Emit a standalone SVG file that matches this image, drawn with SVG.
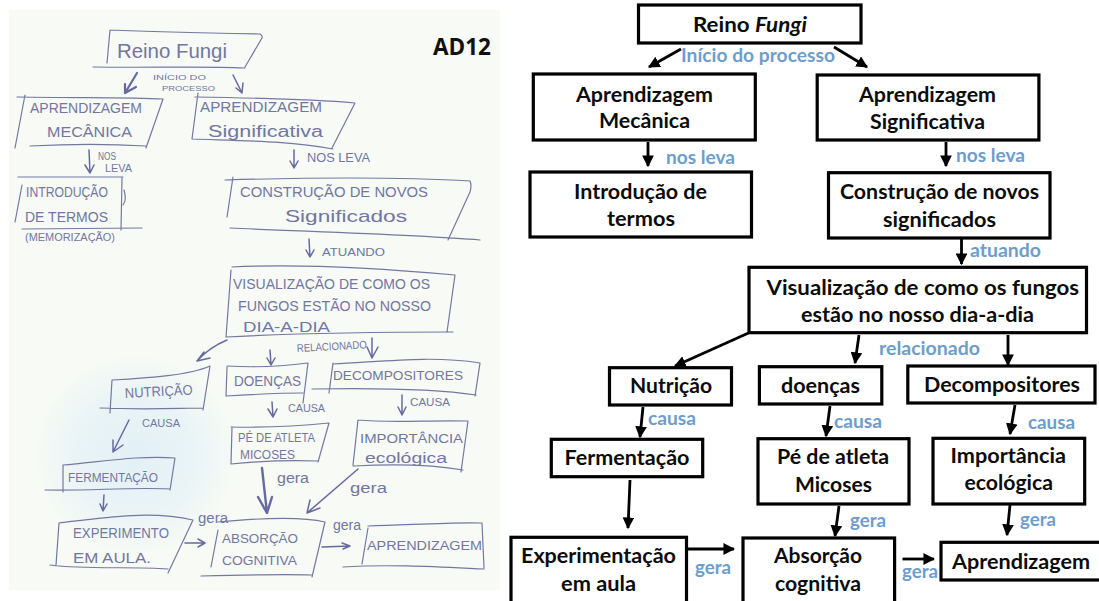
<svg xmlns="http://www.w3.org/2000/svg" width="1099" height="601" viewBox="0 0 1099 601">
<style>
.p{fill:none;stroke:#7478a0;stroke-width:1.2;stroke-linecap:round;stroke-linejoin:round}
.a{fill:none;stroke:#676a9f;stroke-width:1.5;stroke-linecap:round;stroke-linejoin:round}
.h{font-family:"Liberation Sans",sans-serif;fill:#7276a0;font-size:14px}
.b{fill:#fff;stroke:#000;stroke-width:3.2}
.t{font-family:Lato,"Liberation Sans",sans-serif;font-weight:700;font-size:20.5px;fill:#0c0c0c}
.l{font-family:Lato,"Liberation Sans",sans-serif;font-weight:700;font-size:19px;fill:#6c9dcc}
.c{fill:none;stroke:#000;stroke-width:2.8;marker-end:url(#ah)}
</style>
<defs>
<marker id="ah" viewBox="0 0 10 10" refX="9" refY="5" markerWidth="4.2" markerHeight="4.2" orient="auto"><path d="M0 0L10 5L0 10z" fill="#000"/></marker>
<radialGradient id="blot"><stop offset="0" stop-color="#e2f0f6"/><stop offset=".6" stop-color="#eaf4f6"/><stop offset="1" stop-color="#f7faf5"/></radialGradient>
</defs>
<rect width="1099" height="601" fill="#fff"/>
<rect id="paper" x="9" y="10" width="491" height="580" fill="#f7faf5"/>
<ellipse cx="135" cy="455" rx="100" ry="100" fill="url(#blot)"/>
<text x="433" y="55" textLength="58" lengthAdjust="spacingAndGlyphs" font-family="'Open Sans','Liberation Sans',sans-serif" font-weight="700" font-size="24" fill="#111">AD12</text>

<g id="sketch-connectors">
<path class="a" style="stroke-width:2.2" d="M137 73L125 93M125 84L125 93L136 87"/>
<path class="a" d="M233 75L242 93M236 88L242 93L243 83"/>
<path class="a" d="M89 150L90 173M85 165L90 173L94 165"/>
<path class="a" d="M294 150L294 168M290 161L294 168L298 161"/>
<path class="a" d="M309 239L310 257M306 250L310 257L314 250"/>
<path class="a" d="M227 340C215 345 205 352 197 361M210 358L197 361L204 352"/>
<path class="a" d="M270 350L271 365M267 358L271 365L275 358"/>
<path class="a" d="M372 338L372 358M367 347L372 358L378 347"/>
<path class="a" d="M272 402L273 417M268 409L273 417L277 409"/>
<path class="a" d="M402 395L402 415M398 407L402 415L406 407"/>
<path class="a" d="M129 420L113 452M113 440L113 452L123 445"/>
<path class="a" d="M104 495L103 511M100 504L103 511L107 504"/>
<path class="a" style="stroke-width:2.4" d="M262 468L267 513M258 497L267 513L272 497"/>
<path class="a" d="M358 469L307 513M310 500L307 513L320 508"/>
<path class="a" d="M185 543L205 543M198 539L205 543L198 547"/>
<path class="a" d="M322 547L350 546M342 543L350 546L343 549"/>
</g>

<g id="s-reino"><path class="p" d="M110 30L107 63M110 30C160 32 210 33 260 34Q263 36 262 38L245 67M93 67C150 68 200 66 245 68"/><text class="h" style="font-size:21px" x="117" y="58" textLength="110" lengthAdjust="spacingAndGlyphs">Reino Fungi</text></g>
<g id="s-inicio"><text class="h" style="font-size:8px" x="153" y="80" textLength="53" lengthAdjust="spacingAndGlyphs">INÍCIO DO</text><text class="h" style="font-size:8px" x="162" y="91" textLength="53" lengthAdjust="spacingAndGlyphs">PROCESSO</text></g>
<g id="s-mecanica"><path class="p" d="M25 95L15 148M17 97C80 98 130 97 163 99L146 148M30 146C70 144 110 144 146 146"/><text class="h" x="30" y="113" textLength="112" lengthAdjust="spacingAndGlyphs">APRENDIZAGEM</text><text class="h" x="47" y="137" textLength="85" lengthAdjust="spacingAndGlyphs">MECÂNICA</text></g>
<text class="h" style="font-size:10px" x="98" y="160" textLength="18" lengthAdjust="spacingAndGlyphs">NOS</text><text class="h" style="font-size:10px" x="105" y="172" textLength="27" lengthAdjust="spacingAndGlyphs">LEVA</text>
<g id="s-introducao"><path class="p" d="M18 177L123 177M22 185L15 222M122 178L121 230M124 190Q127 200 123 205M22 229L142 228"/><text class="h" x="26" y="197" textLength="82" lengthAdjust="spacingAndGlyphs">INTRODUÇÃO</text><text class="h" x="25" y="222" textLength="83" lengthAdjust="spacingAndGlyphs">DE TERMOS</text><text class="h" style="font-size:10px" x="25" y="241" textLength="90" lengthAdjust="spacingAndGlyphs">(MEMORIZAÇÃO)</text></g>
<g id="s-significativa"><path class="p" d="M198 93L192 139M195 97C260 98 320 100 355 103L332 148M192 139C250 141 290 141 333 149"/><text class="h" x="200" y="112" textLength="122" lengthAdjust="spacingAndGlyphs">APRENDIZAGEM</text><text class="h" style="font-size:16px" x="208" y="137" textLength="115" lengthAdjust="spacingAndGlyphs">Significativa</text></g>
<text class="h" style="font-size:12px" x="307" y="162" textLength="63" lengthAdjust="spacingAndGlyphs">NOS LEVA</text>
<g id="s-construcao"><path class="p" d="M233 177L227 217M225 180C330 177 420 178 470 181Q472 185 470 192L448 240M230 228C320 232 420 235 480 240"/><text class="h" x="240" y="197" textLength="188" lengthAdjust="spacingAndGlyphs">CONSTRUÇÃO DE NOVOS</text><text class="h" style="font-size:17px" x="285" y="222" textLength="122" lengthAdjust="spacingAndGlyphs">Significados</text></g>
<text class="h" style="font-size:11px" x="322" y="256" textLength="63" lengthAdjust="spacingAndGlyphs">ATUANDO</text>
<g id="s-visualizacao"><path class="p" d="M232 267C310 263 400 270 455 275M231 270L226 337M455 275L447 332M226 337C300 333 400 332 453 332"/><text class="h" x="233" y="289" textLength="197" lengthAdjust="spacingAndGlyphs">VISUALIZAÇÃO DE COMO OS</text><text class="h" x="238" y="311" textLength="193" lengthAdjust="spacingAndGlyphs">FUNGOS ESTÃO NO NOSSO</text><text class="h" x="243" y="332" textLength="87" lengthAdjust="spacingAndGlyphs">DIA-A-DIA</text></g>
<text class="h" style="font-size:11px" transform="rotate(-3 297 352)" x="297" y="352" textLength="70" lengthAdjust="spacingAndGlyphs">RELACIONADO</text>
<g id="s-nutricao"><path class="p" d="M112 380L110 413M112 380C150 378 190 375 210 366L203 410M100 408C150 410 180 408 203 408"/><text class="h" transform="rotate(-3 125 398)" x="125" y="398" textLength="68" lengthAdjust="spacingAndGlyphs">NUTRIÇÃO</text></g>
<g id="s-doencas"><path class="p" d="M227 367L226 396M227 366C260 368 285 366 308 363L303 403M226 396C260 394 285 393 303 393"/><text class="h" x="234" y="386" textLength="67" lengthAdjust="spacingAndGlyphs">DOENÇAS</text></g>
<g id="s-decompositores"><path class="p" d="M333 363L329 393M333 364C380 362 430 355 480 363L475 396M312 389C370 388 430 388 476 395"/><text class="h" style="font-size:13px" x="333" y="380" textLength="130" lengthAdjust="spacingAndGlyphs">DECOMPOSITORES</text></g>
<text class="h" style="font-size:10px" x="142" y="427" textLength="38" lengthAdjust="spacingAndGlyphs">CAUSA</text><text class="h" style="font-size:10px" x="288" y="412" textLength="37" lengthAdjust="spacingAndGlyphs">CAUSA</text><text class="h" style="font-size:11px" x="410" y="406" textLength="40" lengthAdjust="spacingAndGlyphs">CAUSA</text>
<g id="s-pe"><path class="p" d="M232 427L231 464M231 427C270 428 300 426 329 423L318 462M231 464C260 461 290 460 318 461"/><text class="h" style="font-size:12px" x="238" y="442" textLength="77" lengthAdjust="spacingAndGlyphs">PÉ DE ATLETA</text><text class="h" style="font-size:12px" x="240" y="459" textLength="55" lengthAdjust="spacingAndGlyphs">MICOSES</text></g>
<g id="s-importancia"><path class="p" d="M358 420L353 465M358 420C390 423 430 420 468 421L461 472M353 466C390 464 430 464 463 470"/><text class="h" style="font-size:13px" x="360" y="443" textLength="103" lengthAdjust="spacingAndGlyphs">IMPORTÂNCIA</text><text class="h" x="365" y="463" textLength="82" lengthAdjust="spacingAndGlyphs">ecológica</text></g>
<g id="s-fermentacao"><path class="p" d="M63 465L63 492M63 465C100 462 140 455 175 458L170 490M45 490C90 491 130 487 170 489"/><text class="h" style="font-size:12px" x="68" y="482" textLength="90" lengthAdjust="spacingAndGlyphs">FERMENTAÇÃO</text></g>
<text class="h" style="font-size:14px" x="277" y="483" textLength="32" lengthAdjust="spacingAndGlyphs">gera</text><text class="h" style="font-size:14px" x="350" y="493" textLength="37" lengthAdjust="spacingAndGlyphs">gera</text><text class="h" style="font-size:14px" x="198" y="523" textLength="30" lengthAdjust="spacingAndGlyphs">gera</text><text class="h" style="font-size:14px" x="333" y="530" textLength="28" lengthAdjust="spacingAndGlyphs">gera</text>
<g id="s-experimento"><path class="p" d="M59 523L56 565M59 523C100 518 150 510 193 520L168 573M50 565C90 570 130 566 168 569"/><text class="h" x="73" y="538" textLength="96" lengthAdjust="spacingAndGlyphs">EXPERIMENTO</text><text class="h" x="73" y="563" textLength="78" lengthAdjust="spacingAndGlyphs">EM AULA.</text></g>
<g id="s-absorcao"><path class="p" d="M218 530L211 567M218 522C260 518 300 516 325 522L312 577M201 576C240 575 280 574 312 575"/><text class="h" style="font-size:13px" x="222" y="543" textLength="76" lengthAdjust="spacingAndGlyphs">ABSORÇÃO</text><text class="h" style="font-size:13px" x="222" y="565" textLength="75" lengthAdjust="spacingAndGlyphs">COGNITIVA</text></g>
<g id="s-aprendizagem"><path class="p" d="M368 528L362 564M368 526C410 525 450 522 482 523L484 568M343 567C390 564 440 567 484 569"/><text class="h" style="font-size:12px" x="367" y="550" textLength="115" lengthAdjust="spacingAndGlyphs">APRENDIZAGEM</text></g>

<g id="connectors">
<path class="c" d="M681 49L649 67"/>
<path class="c" d="M834 47L867 67"/>
<path class="c" d="M648 142L648 166"/>
<path class="c" d="M946 142L946 166"/>
<path class="c" d="M961.5 239L961.5 264"/>
<path class="c" d="M748.5 333L675 366"/>
<path class="c" d="M859 335L855 363"/>
<path class="c" d="M1008 335L1008 365"/>
<path class="c" d="M643 407L640 437"/>
<path class="c" d="M830 406L826 436"/>
<path class="c" d="M1015 405L1010 434"/>
<path class="c" d="M630 480L628 528"/>
<path class="c" d="M839 506L835 536"/>
<path class="c" d="M1010 505L1007 535"/>
<path class="c" d="M687 549L734 549"/>
<path class="c" d="M902.5 559L934 559"/>
</g>

<g id="n-reino"><rect class="b" x="638.5" y="5" width="222.5" height="38"/><text class="t" x="693" y="32" textLength="114" lengthAdjust="spacingAndGlyphs">Reino <tspan font-style="italic">Fungi</tspan></text></g>
<g id="n-mecanica"><rect class="b" x="533.3" y="74" width="222" height="66"/><text class="t" x="576" y="102" textLength="137" lengthAdjust="spacingAndGlyphs">Aprendizagem</text><text class="t" x="599" y="128" textLength="91" lengthAdjust="spacingAndGlyphs">Mecânica</text></g>
<g id="n-significativa"><rect class="b" x="817.2" y="75" width="221.7" height="65"/><text class="t" x="859" y="102" textLength="137" lengthAdjust="spacingAndGlyphs">Aprendizagem</text><text class="t" x="870" y="129" textLength="115" lengthAdjust="spacingAndGlyphs">Significativa</text></g>
<g id="n-introducao"><rect class="b" x="530" y="172" width="221.5" height="65"/><text class="t" x="574" y="199" textLength="133" lengthAdjust="spacingAndGlyphs">Introdução de</text><text class="t" x="607" y="226" textLength="68" lengthAdjust="spacingAndGlyphs">termos</text></g>
<g id="n-construcao"><rect class="b" x="828.5" y="172.7" width="221.5" height="65.3"/><text class="t" x="840" y="199" textLength="199" lengthAdjust="spacingAndGlyphs">Construção de novos</text><text class="t" x="883" y="227" textLength="113" lengthAdjust="spacingAndGlyphs">significados</text></g>
<g id="n-visualizacao"><rect class="b" x="749" y="267.3" width="337.5" height="65.4"/><text class="t" x="766.5" y="295" textLength="312.5" lengthAdjust="spacingAndGlyphs">Visualização de como os fungos</text><text class="t" x="801" y="321.5" textLength="233" lengthAdjust="spacingAndGlyphs">estão no nosso dia-a-dia</text></g>
<g id="n-nutricao"><rect class="b" x="609.5" y="367.7" width="122" height="37.3"/><text class="t" x="630" y="393" textLength="82" lengthAdjust="spacingAndGlyphs">Nutrição</text></g>
<g id="n-doencas"><rect class="b" x="759.4" y="366.7" width="122.4" height="37.3"/><text class="t" x="781" y="393" textLength="79" lengthAdjust="spacingAndGlyphs">doenças</text></g>
<g id="n-decompositores"><rect class="b" x="907.8" y="366" width="187.2" height="37"/><text class="t" x="924" y="392" textLength="156" lengthAdjust="spacingAndGlyphs">Decompositores</text></g>
<g id="n-fermentacao"><rect class="b" x="551.3" y="439.3" width="151.4" height="37.4"/><text class="t" x="564.5" y="465" textLength="125" lengthAdjust="spacingAndGlyphs">Fermentação</text></g>
<g id="n-pe"><rect class="b" x="758" y="438.7" width="151" height="65.3"/><text class="t" x="777" y="464" textLength="112" lengthAdjust="spacingAndGlyphs">Pé de atleta</text><text class="t" x="795" y="492" textLength="77" lengthAdjust="spacingAndGlyphs">Micoses</text></g>
<g id="n-importancia"><rect class="b" x="933" y="438.3" width="151.7" height="65.7"/><text class="t" x="950.6" y="463" textLength="115.4" lengthAdjust="spacingAndGlyphs">Importância</text><text class="t" x="964.5" y="490" textLength="88.5" lengthAdjust="spacingAndGlyphs">ecológica</text></g>
<g id="n-experimentacao"><rect class="b" x="511" y="537.3" width="175.5" height="70"/><text class="t" x="521" y="563" textLength="155" lengthAdjust="spacingAndGlyphs">Experimentação</text><text class="t" x="561" y="591" textLength="75" lengthAdjust="spacingAndGlyphs">em aula</text></g>
<g id="n-absorcao"><rect class="b" x="743" y="538" width="151.6" height="70"/><text class="t" x="774" y="563" textLength="88" lengthAdjust="spacingAndGlyphs">Absorção</text><text class="t" x="775" y="591" textLength="86" lengthAdjust="spacingAndGlyphs">cognitiva</text></g>
<g id="n-aprendizagem"><rect class="b" x="941" y="542.3" width="165" height="37.7"/><text class="t" x="952" y="569" textLength="138" lengthAdjust="spacingAndGlyphs">Aprendizagem</text></g>

<g id="labels">
<text class="l" x="681" y="62" textLength="154" lengthAdjust="spacingAndGlyphs">Início do processo</text>
<text class="l" x="666" y="164" textLength="69" lengthAdjust="spacingAndGlyphs">nos leva</text>
<text class="l" x="956" y="162" textLength="69" lengthAdjust="spacingAndGlyphs">nos leva</text>
<text class="l" x="970" y="257" textLength="71" lengthAdjust="spacingAndGlyphs">atuando</text>
<text class="l" x="879" y="355" textLength="101" lengthAdjust="spacingAndGlyphs">relacionado</text>
<text class="l" x="648" y="425" textLength="48" lengthAdjust="spacingAndGlyphs">causa</text>
<text class="l" x="834" y="428" textLength="48" lengthAdjust="spacingAndGlyphs">causa</text>
<text class="l" x="1028" y="429" textLength="47" lengthAdjust="spacingAndGlyphs">causa</text>
<text class="l" x="850" y="527" textLength="36" lengthAdjust="spacingAndGlyphs">gera</text>
<text class="l" x="1020" y="526" textLength="36" lengthAdjust="spacingAndGlyphs">gera</text>
<text class="l" x="695" y="574" textLength="36" lengthAdjust="spacingAndGlyphs">gera</text>
<text class="l" x="902" y="578" textLength="36" lengthAdjust="spacingAndGlyphs">gera</text>
</g>
</svg>
